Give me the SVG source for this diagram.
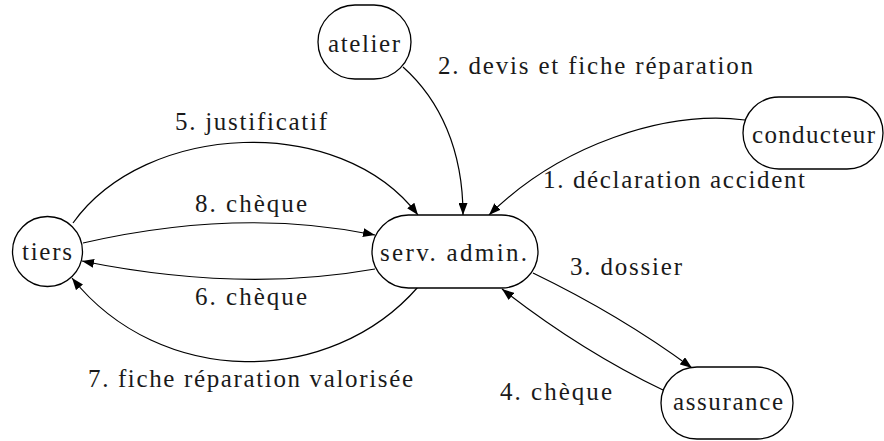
<svg xmlns="http://www.w3.org/2000/svg" width="884" height="441" viewBox="0 0 884 441">
<defs>
<style>
.node{fill:#fff;stroke:#000;stroke-width:1.3}
.edge{fill:none;stroke:#000;stroke-width:1.2;marker-end:url(#ah)}
text{font-family:"Liberation Serif","Times New Roman",serif;font-size:25px;fill:#1a1a1a}
</style>
<marker id="ah" markerUnits="userSpaceOnUse" markerWidth="13" markerHeight="9" refX="12" refY="4.5" orient="auto">
<path d="M0,0 L12,4.5 L0,9 z" fill="#000"/>
</marker>
</defs>
<rect width="884" height="441" fill="#fff"/>
<g id="connectors">
<path id="e1" class="edge" d="M745,120 C665,110 560,145 489,215"/>
<path id="e2" class="edge" d="M403,67 C440,100 463,150 463,215"/>
<path id="e3" class="edge" d="M533,273 Q620,315 692,368"/>
<path id="e4" class="edge" d="M663,390 Q580,350 502,289"/>
<path id="e5" class="edge" d="M73,223 C145,122 340,112 418,215"/>
<path id="e6" class="edge" d="M375,269 Q240,293 82,261"/>
<path id="e7" class="edge" d="M418,287 C330,388 160,388 72,278"/>
<path id="e8" class="edge" d="M83,243 Q240,207 375,235"/>
</g>
<g id="labels">
<text x="543" y="188" textLength="262" lengthAdjust="spacing">1. déclaration accident</text>
<text x="438" y="74" textLength="315" lengthAdjust="spacing">2. devis et fiche réparation</text>
<text x="570" y="275" textLength="112" lengthAdjust="spacing">3. dossier</text>
<text x="500" y="400" textLength="112" lengthAdjust="spacing">4. chèque</text>
<text x="175" y="130" textLength="152" lengthAdjust="spacing">5. justificatif</text>
<text x="195" y="305" textLength="112" lengthAdjust="spacing">6. chèque</text>
<text x="88" y="387" textLength="325" lengthAdjust="spacing">7. fiche réparation valorisée</text>
<text x="195" y="212" textLength="112" lengthAdjust="spacing">8. chèque</text>
</g>
<g id="atelier">
<rect class="node" x="318" y="5" width="93" height="74" rx="37" ry="37"/>
<text x="328" y="52" textLength="72" lengthAdjust="spacing">atelier</text>
</g>
<g id="conducteur">
<rect class="node" x="743" y="97" width="140" height="72" rx="36" ry="36"/>
<text x="752" y="143" textLength="123" lengthAdjust="spacing">conducteur</text>
</g>
<g id="tiers">
<circle class="node" cx="47.5" cy="251.5" r="35"/>
<text x="22" y="260" textLength="50" lengthAdjust="spacing">tiers</text>
</g>
<g id="serv-admin">
<rect class="node" x="372" y="215" width="166" height="73" rx="36.5" ry="36.5"/>
<text x="380" y="261" textLength="147" lengthAdjust="spacing">serv. admin.</text>
</g>
<g id="assurance">
<rect class="node" x="661" y="367" width="132" height="72" rx="36" ry="36"/>
<text x="673" y="410" textLength="110" lengthAdjust="spacing">assurance</text>
</g>
</svg>
